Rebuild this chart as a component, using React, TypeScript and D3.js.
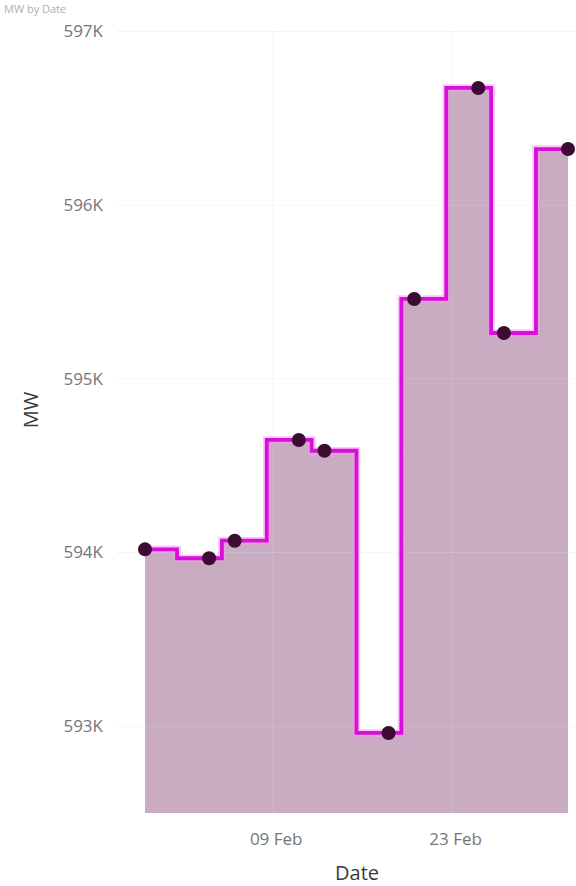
import React from "react";
import * as d3 from "d3";

const dates: string[] = [
  "2020-01-30", "2020-02-04", "2020-02-06", "2020-02-11", "2020-02-13",
  "2020-02-18", "2020-02-20", "2020-02-25", "2020-02-27", "2020-03-03",
];
const mwValues: number[] = [
  594018, 593967, 594068, 594648, 594586,
  592961, 595460, 596675, 595264, 596323,
];
const yTicks: number[] = [593000, 594000, 595000, 596000, 597000];
const xTickDates: string[] = ["2020-02-09", "2020-02-23"];
const xTickLabels: string[] = ["09 Feb", "23 Feb"];

const W = 576;
const H = 886;

export default function App() {
  const parse = d3.timeParse("%Y-%m-%d");
  const data = dates.map((d, i) => ({ date: parse(d) as Date, v: mwValues[i] }));

  const x = d3
    .scaleTime()
    .domain([data[0].date, data[data.length - 1].date])
    .range([145, 568]);
  const y = d3.scaleLinear().domain([592500, 597000]).range([813, 31.5]);

  const line = d3
    .line<{ date: Date; v: number }>()
    .x((d) => x(d.date))
    .y((d) => y(d.v))
    .curve(d3.curveStep);
  const area = d3
    .area<{ date: Date; v: number }>()
    .x((d) => x(d.date))
    .y0(y(592500))
    .y1((d) => y(d.v))
    .curve(d3.curveStep);

  const font = "'Segoe UI', 'Open Sans', 'DejaVu Sans', sans-serif";
  const gridLeft = 118;

  return (
    <svg
      width={W}
      height={H}
      style={{ position: "absolute", left: 0, top: 0, background: "#fff" }}
    >
      <text x={4} y={13} fontFamily={font} fontSize={11} fill="#b0b0b0">
        MW by Date
      </text>
      {/* area */}
      <path d={area(data) || ""} fill="#c9abc2" />
      {/* horizontal grid */}
      {yTicks.map((t) => (
        <line
          key={"h" + t}
          x1={gridLeft}
          x2={W}
          y1={y(t)}
          y2={y(t)}
          stroke="#d9d9d9"
          strokeWidth={1}
          strokeDasharray="1,3"
          opacity={0.9}
        />
      ))}
      {/* vertical grid */}
      {xTickDates.map((t) => {
        const xx = x(parse(t) as Date);
        return (
          <line
            key={"v" + t}
            x1={xx}
            x2={xx}
            y1={y(597000)}
            y2={y(592500)}
            stroke="#dcdcdc"
            strokeWidth={1}
            strokeDasharray="1,3"
            opacity={0.9}
          />
        );
      })}
      {/* line glow + line */}
      <path
        d={line(data) || ""}
        fill="none"
        stroke="#f29af2"
        strokeWidth={7.5}
        opacity={0.55}
      />
      <path d={line(data) || ""} fill="none" stroke="#d90fd9" strokeWidth={3.8} />
      {/* points */}
      {data.map((d, i) => (
        <circle key={i} cx={x(d.date)} cy={y(d.v)} r={7} fill="#3d0a33" />
      ))}
      {/* y tick labels */}
      {yTicks.map((t) => (
        <text
          key={"yl" + t}
          x={103}
          y={y(t)}
          dy="0.35em"
          textAnchor="end"
          fontFamily={font}
          fontSize={17}
          fill="#767676"
        >
          {d3.format(".0f")(t / 1000) + "K"}
        </text>
      ))}
      {/* x tick labels */}
      {xTickDates.map((t, i) => (
        <text
          key={"xl" + t}
          x={x(parse(t) as Date) + 3}
          y={839}
          dy="0.35em"
          textAnchor="middle"
          fontFamily={font}
          fontSize={17}
          fill="#767676"
        >
          {xTickLabels[i]}
        </text>
      ))}
      {/* axis titles */}
      <text
        x={357}
        y={873}
        dy="0.35em"
        textAnchor="middle"
        fontFamily={font}
        fontSize={20}
        fill="#3a3a3a"
      >
        Date
      </text>
      <text
        transform="translate(31,410) rotate(-90)"
        dy="0.35em"
        textAnchor="middle"
        fontFamily={font}
        fontSize={20}
        fill="#3a3a3a"
      >
        MW
      </text>
    </svg>
  );
}
